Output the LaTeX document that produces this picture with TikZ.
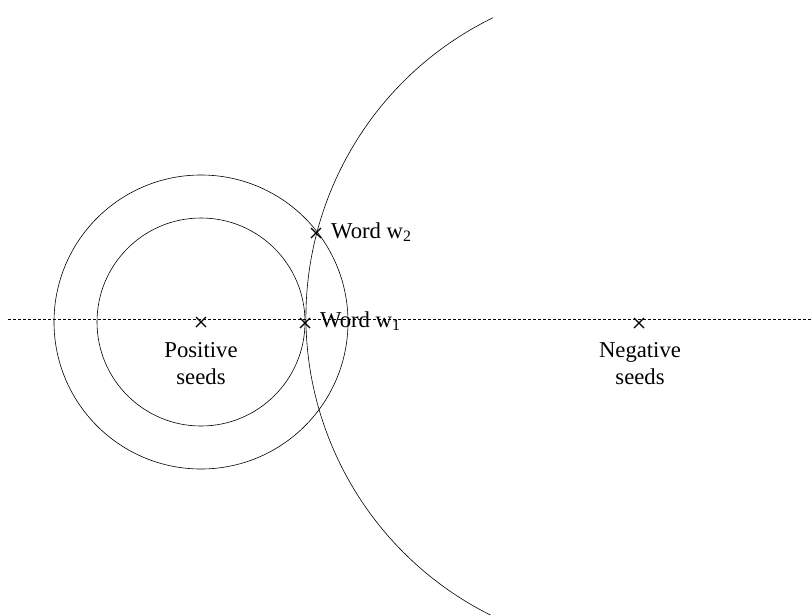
\documentclass[tikz,border=0pt]{standalone}
\usepackage{fontspec}
\setmainfont{Liberation Serif}
\begin{document}
\begin{tikzpicture}[x=1pt,y=1pt,
  curve/.style={draw=black, line width=0.6pt},
  axis/.style={draw=black, line width=0.6pt, dash pattern=on 3pt off 2pt},
  lbl/.style={font=\fontsize{22.7}{27}\selectfont, inner sep=0pt, align=center},
  crossmark/.style={draw=black, line width=1.1pt}]
\useasboundingbox (0,0) rectangle (812,-614);
% centres
\coordinate (pos) at (201,-322);
\coordinate (neg) at (639,-317);
\coordinate (w1) at (305,-323);
\coordinate (w2) at (316,-233);
\coordinate (dl) at (8,-319);
\coordinate (dr) at (812,-319);
% dashed axis
\draw[axis] (dl) -- (dr);
% circles
\draw[curve] (pos) circle[radius=104];
\draw[curve] (pos) circle[radius=147];
\draw[curve] ([shift={(116:333)}]neg) arc[start angle=116, end angle=244, radius=333];
% cross marks
\coordinate (negm) at (639,-323);
\foreach \p in {pos,w1,w2,negm}{
  \draw[crossmark] ([shift={(-5,-5)}]\p) -- ([shift={(5,5)}]\p);
  \draw[crossmark] ([shift={(-5,5)}]\p) -- ([shift={(5,-5)}]\p);
}
% labels
\node[lbl, anchor=north] (poslbl) at (201,-342) {Positive\\seeds};
\node[lbl, anchor=north] (neglbl) at (640,-342) {Negative\\seeds};
\node[lbl, anchor=base west] (w1lbl) at (320,-327) {Word w\textsubscript{1}};
\node[lbl, anchor=base west] (w2lbl) at (331,-238) {Word w\textsubscript{2}};
\end{tikzpicture}
\end{document}
